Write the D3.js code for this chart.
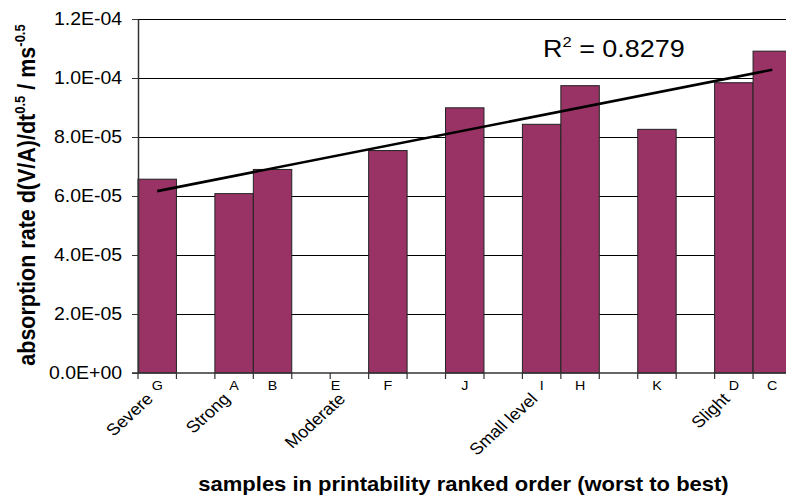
<!DOCTYPE html>
<html>
<head>
<meta charset="utf-8">
<script src="https://cdn.jsdelivr.net/npm/d3@7/dist/d3.min.js"></script>
<style>
  html, body { margin: 0; padding: 0; background: #fff; }
  svg { display: block; font-family: "Liberation Sans", Arial, sans-serif; }
</style>
</head>
<body>
<svg id="chart" width="786" height="495"></svg>
<script>
// Sample letters along the ranked axis (blank entries are empty positions)
const slotLetters = ["G", "", "A", "B", "", "E", "F", "", "J", "", "I", "H", "", "K", "", "D", "C"];
// Absorption rate d(V/A)/dt^0.5 for each position (null = no bar)
const absorptionRate = [6.57e-5, null, 6.08e-5, 6.90e-5, null, null, 7.54e-5, null, 8.99e-5, null,
                        8.43e-5, 9.74e-5, null, 8.26e-5, null, 9.84e-5, 1.091e-4];
// Printability rank descriptors, attached to a sample letter
const rankLabels = [
  { sample: "G", text: "Severe" },
  { sample: "A", text: "Strong" },
  { sample: "E", text: "Moderate" },
  { sample: "I", text: "Small level" },
  { sample: "D", text: "Slight" }
];
const yTickValues = [0, 2e-5, 4e-5, 6e-5, 8e-5, 1e-4, 1.2e-4];
const yTickLabels = ["0.0E+00", "2.0E-05", "4.0E-05", "6.0E-05", "8.0E-05", "1.0E-04", "1.2E-04"];
const rSquaredText = "0.8279";

const svg = d3.select("#chart");
const plot = { left: 138, right: 791.5, top: 19, bottom: 373 };
const barColor = "#993366";
const stretch = 1.1; // horizontal widening of the lettering

const x = d3.scaleBand()
  .domain(d3.range(slotLetters.length))
  .range([plot.left, plot.right])
  .paddingInner(0).paddingOuter(0);
const y = d3.scaleLinear().domain([0, 1.2e-4]).range([plot.bottom, plot.top]);

// horizontal gridlines
svg.append("g").selectAll("line")
  .data(yTickValues.slice(1))
  .join("line")
  .attr("x1", plot.left).attr("x2", plot.right)
  .attr("y1", d => y(d)).attr("y2", d => y(d))
  .attr("stroke", "#000").attr("stroke-width", 1).attr("shape-rendering", "crispEdges");

// bars
const bars = absorptionRate.map((v, i) => ({ i, v })).filter(d => d.v != null);
svg.append("g").selectAll("rect")
  .data(bars)
  .join("rect")
  .attr("x", d => x(d.i))
  .attr("width", x.bandwidth())
  .attr("y", d => y(d.v))
  .attr("height", d => y(0) - y(d.v))
  .attr("fill", barColor)
  .attr("stroke", "#222")
  .attr("stroke-width", 1);

// y axis
const yAxis = d3.axisLeft(y)
  .tickValues(yTickValues)
  .tickFormat((d, i) => yTickLabels[i])
  .tickSizeInner(6).tickSizeOuter(0).tickPadding(8.5);
const gy = svg.append("g").attr("transform", `translate(${plot.left},0)`).call(yAxis);
gy.select(".domain").attr("stroke", "#333").attr("stroke-width", 1.5);
gy.selectAll(".tick line").attr("stroke", "#333");
gy.selectAll(".tick text")
  .attr("font-size", 17.7)
  .attr("fill", "#000")
  .attr("font-family", "Liberation Sans, Arial, sans-serif")
  .attr("transform", `scale(${stretch},1)`);

// x axis baseline and boundary ticks
svg.append("line")
  .attr("x1", plot.left - 6).attr("x2", plot.right)
  .attr("y1", y(0)).attr("y2", y(0))
  .attr("stroke", "#333").attr("stroke-width", 1.5);
const boundaries = d3.range(slotLetters.length + 1).map(i => plot.left + i * x.step());
svg.append("g").selectAll("line")
  .data(boundaries)
  .join("line")
  .attr("x1", d => d).attr("x2", d => d)
  .attr("y1", y(0)).attr("y2", y(0) + 6)
  .attr("stroke", "#333").attr("stroke-width", 1.2);

// sample letters under the axis
const letterNudge = { E: -14 };
const slotCenter = i => x(i) + x.bandwidth() / 2;
svg.append("g").selectAll("text")
  .data(slotLetters.map((t, i) => ({ t, i })).filter(d => d.t))
  .join("text")
  .attr("transform", d => `translate(${slotCenter(d.i) + (letterNudge[d.t] || 0)},389.5) scale(${stretch},1)`)
  .attr("text-anchor", "middle")
  .attr("font-size", 13)
  .text(d => d.t);

// rotated rank descriptors
svg.append("g").selectAll("text")
  .data(rankLabels)
  .join("text")
  .attr("transform", d => {
    const i = slotLetters.indexOf(d.sample);
    return `translate(${slotCenter(i) - 3},${400}) scale(${stretch},1) rotate(-45)`;
  })
  .attr("text-anchor", "end")
  .attr("font-size", 16.5)
  .text(d => d.text);

// linear trend line fitted to the bars over position
const mx = d3.mean(bars, d => d.i), my = d3.mean(bars, d => d.v);
const slope = d3.sum(bars, d => (d.i - mx) * (d.v - my)) / d3.sum(bars, d => (d.i - mx) ** 2);
const intercept = my - slope * mx;
const i0 = bars[0].i, i1 = bars[bars.length - 1].i;
const line = d3.line().x(d => slotCenter(d)).y(d => y(intercept + slope * d));
svg.append("path")
  .attr("d", line([i0, i1]))
  .attr("fill", "none")
  .attr("stroke", "#000")
  .attr("stroke-width", 2.6);

// R squared label
const r2 = svg.append("text")
  .attr("transform", `translate(543,57) scale(${stretch},1)`)
  .attr("font-size", 24.5);
r2.append("tspan").text("R");
r2.append("tspan").attr("font-size", 15).attr("dy", -10).text("2");
r2.append("tspan").attr("dy", 10).text(" = " + rSquaredText);

// axis titles
const yTitle = svg.append("text")
  .attr("transform", `translate(35,195) scale(${stretch},1) rotate(-90)`)
  .attr("text-anchor", "middle")
  .attr("font-weight", "bold")
  .attr("font-size", 21.5);
yTitle.append("tspan").text("absorption rate d(V/A)/dt");
yTitle.append("tspan").attr("font-size", 13).attr("dy", -9).text("0.5");
yTitle.append("tspan").attr("dy", 9).text(" / ms");
yTitle.append("tspan").attr("font-size", 13).attr("dy", -9).text("-0.5");

svg.append("text")
  .attr("transform", `translate(463.5,491) scale(${stretch},1)`)
  .attr("text-anchor", "middle")
  .attr("font-weight", "bold")
  .attr("font-size", 20)
  .text("samples in printability ranked order (worst to best)");
</script>
</body>
</html>
